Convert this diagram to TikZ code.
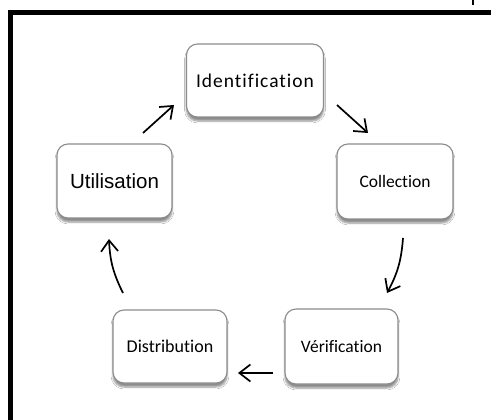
\documentclass[tikz,border=0pt]{standalone}
\usepackage{fontspec}
\setmainfont{Carlito}[RawFeature={-liga;-clig}]
\newfontfamily\arialfont{Liberation Sans}
\newfontfamily\spacedfont{Carlito}[LetterSpace=5,RawFeature={-liga;-clig}]
\usetikzlibrary{arrows.meta,shadows.blur,calc}
\definecolor{boxborder}{HTML}{8C8C8C}
\tikzset{
  stepbox/.style={draw=boxborder, line width=1.1pt, fill=white, rounded corners=11pt,
    blur shadow={shadow xshift=0pt, shadow yshift=-4pt, shadow blur steps=6, shadow opacity=45},
    inner sep=0pt, align=center},
  flow/.style={line width=1.7pt, -{Straight Barb[length=11pt,width=17pt,line width=1.7pt]}},
  frameline/.style={line width=4.5pt}
}
\begin{document}
\begin{tikzpicture}[x=1pt,y=-1pt]
\useasboundingbox (0,0) rectangle (491,420);
\fill[white] (0,0) rectangle (491,420);
% frame
\draw[frameline] (10.5,420) -- (10.5,12.5) -- (491,12.5);
\draw[line width=2pt] (472.5,0) -- (472.5,5.5);
% boxes
\node[stepbox, minimum width=137pt, minimum height=73pt] (ident) at (255,80.5) {\fontsize{19.5pt}{22pt}\selectfont\spacedfont Identification};
\node[stepbox, minimum width=116pt, minimum height=75pt] (coll) at (395,181.5) {\fontsize{17.5pt}{21pt}\selectfont Collection};
\node[stepbox, minimum width=113pt, minimum height=75pt] (verif) at (341.5,346.5) {\fontsize{17.5pt}{21pt}\selectfont Vérification};
\node[stepbox, minimum width=114pt, minimum height=73pt] (dist) at (170,346.5) {\fontsize{18pt}{21pt}\selectfont Distribution};
\node[stepbox, minimum width=115pt, minimum height=74pt] (util) at (114.5,181) {\fontsize{20.5pt}{24pt}\selectfont\arialfont Utilisation};
% connectors
\draw[flow] ($(util)+(28.5,-48)$) -- ($(ident)+(-81,24.5)$);
\draw[flow] ($(ident)+(82,24.5)$) -- ($(coll)+(-27,-48.5)$);
\draw[flow] ($(coll)+(8,56.5)$) to[bend left=12] ($(verif)+(45.5,-53.5)$);
\draw[flow] ($(verif)+(-68.5,26.5)$) -- ($(dist)+(68,26.5)$);
\draw[flow] ($(dist)+(-47,-53.5)$) to[bend left=12] ($(util)+(-5.5,58)$);
\end{tikzpicture}
\end{document}
